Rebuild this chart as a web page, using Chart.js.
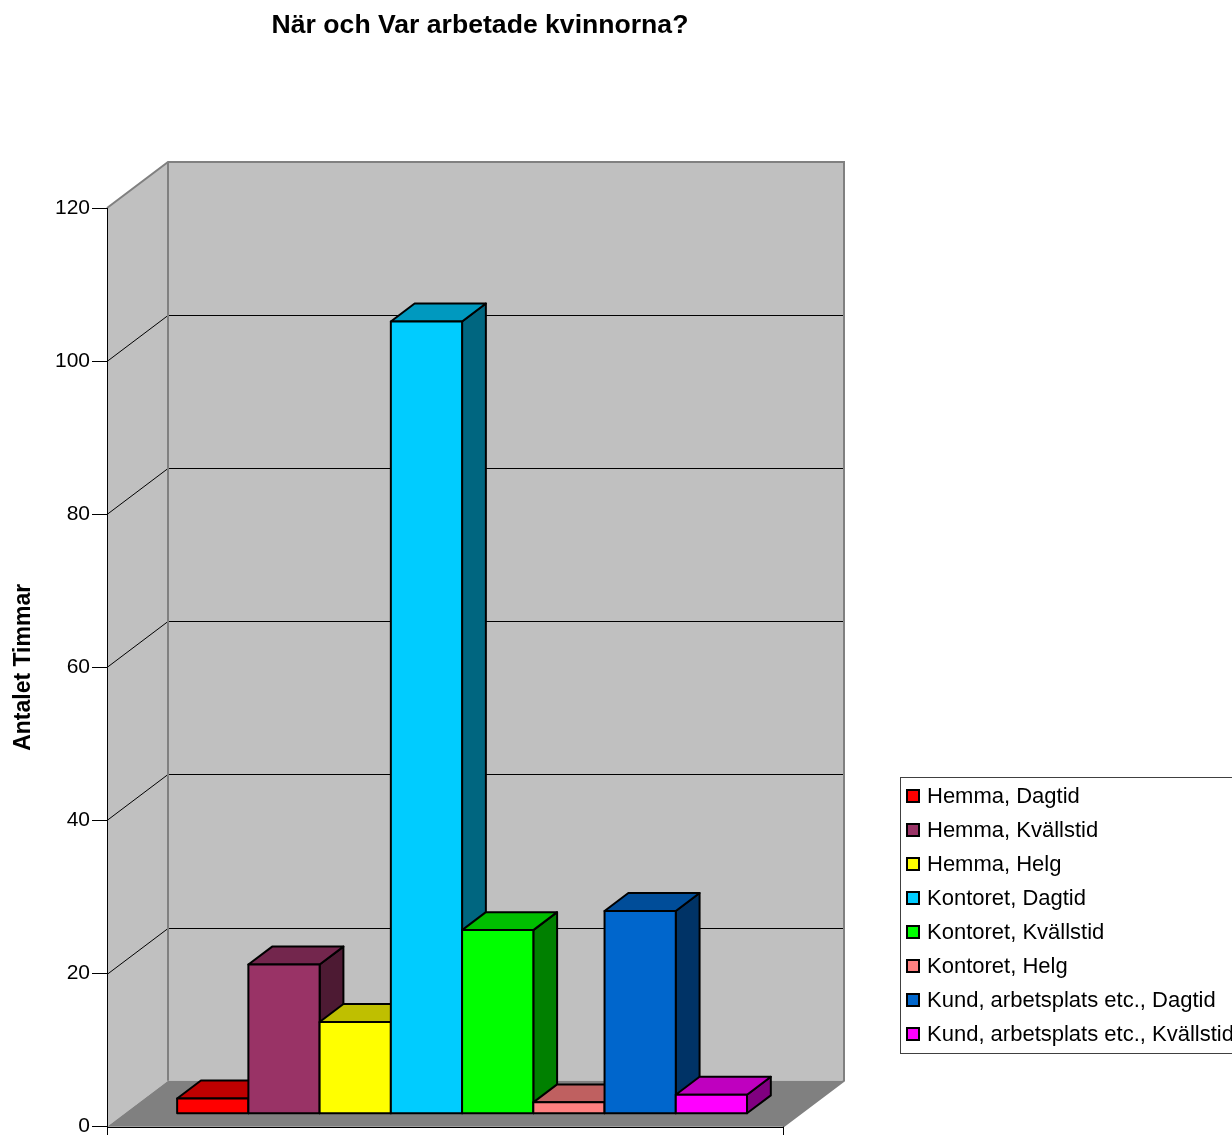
<!DOCTYPE html>
<html>
<head>
<meta charset="utf-8">
<title>När och Var arbetade kvinnorna?</title>
<script src="https://cdn.jsdelivr.net/npm/chart.js@4.4.1/dist/chart.umd.min.js"></script>
<style>
  html, body { margin: 0; padding: 0; background: #fff; overflow: hidden; }
  #chart { display: block; }
</style>
</head>
<body>
<canvas id="chart" width="1232" height="1135"></canvas>
<script>
// ------------------------------------------------------------
// data
// ------------------------------------------------------------
const chartTitle = 'När och Var arbetade kvinnorna?';
const axisTitle = 'Antalet Timmar';
const categories = [''];
const seriesNames = [
  'Hemma, Dagtid',
  'Hemma, Kvällstid',
  'Hemma, Helg',
  'Kontoret, Dagtid',
  'Kontoret, Kvällstid',
  'Kontoret, Helg',
  'Kund, arbetsplats etc., Dagtid',
  'Kund, arbetsplats etc., Kvällstid'
];
const seriesValues = [2, 19.5, 12, 103.5, 24, 1.5, 26.5, 2.5];
const seriesColors = ['#ff0000', '#993366', '#ffff00', '#00ccff', '#00ff00', '#ff8080', '#0066cc', '#ff00ff'];
const yTicks = [0, 20, 40, 60, 80, 100, 120];

// ------------------------------------------------------------
// 3D look
// ------------------------------------------------------------
const DEPTH_X = 61, DEPTH_Y = 46;        // depth of the walls / floor
const BAR_FRONT = 0.28, BAR_DEPTH = 0.39; // where the bars sit inside that depth
const FONT = "'Liberation Sans', Arial, sans-serif";

function shade(hex, f) {
  const n = parseInt(hex.slice(1), 16);
  const r = Math.round(((n >> 16) & 255) * f);
  const g = Math.round(((n >> 8) & 255) * f);
  const b = Math.round((n & 255) * f);
  return `rgb(${r},${g},${b})`;
}

function poly(ctx, pts, fill, stroke, lw) {
  ctx.beginPath();
  ctx.moveTo(pts[0][0], pts[0][1]);
  for (let i = 1; i < pts.length; i++) ctx.lineTo(pts[i][0], pts[i][1]);
  ctx.closePath();
  if (fill) { ctx.fillStyle = fill; ctx.fill(); }
  if (stroke) { ctx.strokeStyle = stroke; ctx.lineWidth = lw; ctx.stroke(); }
}

const box3d = {
  id: 'box3d',
  beforeDraw(chart) {
    const { ctx, chartArea: a, scales: { y } } = chart;
    const L = a.left, R = a.right, B = y.getPixelForValue(0), T = y.getPixelForValue(yTicks[yTicks.length - 1]);
    ctx.save();
    // side wall, back wall, floor
    poly(ctx, [[L, T], [L + DEPTH_X, T - DEPTH_Y], [L + DEPTH_X, B - DEPTH_Y], [L, B]], '#c0c0c0');
    poly(ctx, [[L + DEPTH_X, T - DEPTH_Y], [R + DEPTH_X, T - DEPTH_Y], [R + DEPTH_X, B - DEPTH_Y], [L + DEPTH_X, B - DEPTH_Y]], '#c0c0c0');
    poly(ctx, [[L, B], [L + DEPTH_X, B - DEPTH_Y], [R + DEPTH_X, B - DEPTH_Y], [R, B]], '#808080');
    // grid lines on the walls
    ctx.strokeStyle = '#000';
    ctx.lineWidth = 1;
    yTicks.slice(1, -1).forEach(v => {
      const py = Math.round(y.getPixelForValue(v)) + 0.5;
      ctx.beginPath();
      ctx.moveTo(L, py);
      ctx.lineTo(L + DEPTH_X, py - DEPTH_Y);
      ctx.lineTo(R + DEPTH_X, py - DEPTH_Y);
      ctx.stroke();
    });
    // wall outlines
    ctx.strokeStyle = '#808080';
    ctx.lineWidth = 2;
    ctx.beginPath();
    ctx.moveTo(L, T);
    ctx.lineTo(L + DEPTH_X, T - DEPTH_Y);
    ctx.lineTo(R + DEPTH_X, T - DEPTH_Y);
    ctx.lineTo(R + DEPTH_X, B - DEPTH_Y);
    ctx.lineTo(R, B);
    ctx.moveTo(L + DEPTH_X, T - DEPTH_Y);
    ctx.lineTo(L + DEPTH_X, B - DEPTH_Y);
    ctx.stroke();
    // front floor edge (x axis) with end ticks
    ctx.strokeStyle = '#000';
    ctx.lineWidth = 1;
    ctx.beginPath();
    ctx.moveTo(L, Math.round(B) + 0.5);
    ctx.lineTo(R, Math.round(B) + 0.5);
    ctx.moveTo(Math.round(R) + 0.5, B);
    ctx.lineTo(Math.round(R) + 0.5, B + 9);
    ctx.moveTo(Math.round(L) + 0.5, B);
    ctx.lineTo(Math.round(L) + 0.5, B + 9);
    ctx.stroke();
    ctx.restore();
  },
  beforeDatasetsDraw(chart) {
    const { ctx } = chart;
    const fx = DEPTH_X * BAR_FRONT, fy = DEPTH_Y * BAR_FRONT;
    const dx = DEPTH_X * BAR_DEPTH, dy = DEPTH_Y * BAR_DEPTH;
    ctx.save();
    ctx.lineJoin = 'round';
    chart.data.datasets.forEach((ds, i) => {
      const meta = chart.getDatasetMeta(i);
      meta.data.forEach(el => {
        const x0 = el.x - el.width / 2 + fx, x1 = el.x + el.width / 2 + fx;
        const top = el.y - fy, bot = el.base - fy;
        const col = ds.backgroundColor;
        poly(ctx, [[x1, bot], [x1 + dx, bot - dy], [x1 + dx, top - dy], [x1, top]], shade(col, 0.5), '#000', 2);
        poly(ctx, [[x0, top], [x0 + dx, top - dy], [x1 + dx, top - dy], [x1, top]], shade(col, 0.75), '#000', 2);
        poly(ctx, [[x0, top], [x1, top], [x1, bot], [x0, bot]], col, '#000', 2);
      });
    });
    ctx.restore();
    return false;
  },
  afterDraw(chart) {
    const { ctx } = chart;
    ctx.save();
    // title
    ctx.fillStyle = '#000';
    ctx.font = `bold 26.6px ${FONT}`;
    ctx.textAlign = 'center';
    ctx.textBaseline = 'alphabetic';
    ctx.fillText(chartTitle, 480, 33);
    // legend
    ctx.strokeStyle = '#404040';
    ctx.lineWidth = 1;
    ctx.strokeRect(900.5, 777.5, 345, 276);
    ctx.font = `22px ${FONT}`;
    ctx.textAlign = 'left';
    ctx.textBaseline = 'middle';
    chart.data.datasets.forEach((ds, i) => {
      const cy = 796 + 34 * i;
      ctx.fillStyle = ds.backgroundColor;
      ctx.fillRect(907, cy - 6, 12, 12);
      ctx.strokeStyle = '#000';
      ctx.lineWidth = 2;
      ctx.strokeRect(907, cy - 6, 12, 12);
      ctx.fillStyle = '#000';
      ctx.fillText(ds.label, 927, cy + 1);
    });
    ctx.restore();
  }
};

new Chart(document.getElementById('chart'), {
  type: 'bar',
  data: {
    labels: categories,
    datasets: seriesNames.map((name, i) => ({
      label: name,
      data: [seriesValues[i]],
      backgroundColor: seriesColors[i]
    }))
  },
  options: {
    responsive: false,
    animation: false,
    events: [],
    layout: { padding: { top: 208, right: 449, bottom: 8, left: 0 } },
    categoryPercentage: 0.843,
    barPercentage: 1,
    plugins: { legend: { display: false }, title: { display: false }, tooltip: { enabled: false } },
    scales: {
      x: { display: false },
      y: {
        min: 0,
        max: 120,
        afterBuildTicks: s => { s.ticks = yTicks.map(v => ({ value: v })); },
        afterFit: s => { s.width = 107; },
        border: { display: true, color: '#000', width: 1 },
        grid: { drawOnChartArea: false, drawTicks: true, tickLength: 15, color: '#000' },
        ticks: { color: '#000', padding: 2, font: { family: FONT, size: 21, lineHeight: 0.6 } },
        title: {
          display: true, text: axisTitle, color: '#000',
          font: { family: FONT, size: 23, weight: 'bold' },
          padding: { top: 10, bottom: 0 }
        }
      }
    }
  },
  plugins: [box3d]
});
</script>
</body>
</html>
